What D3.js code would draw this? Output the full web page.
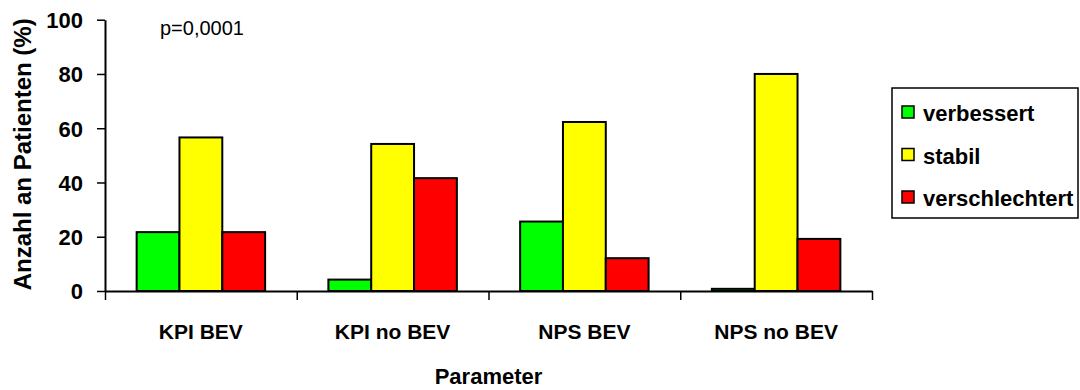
<!DOCTYPE html>
<html>
<head>
<meta charset="utf-8">
<script src="https://cdn.jsdelivr.net/npm/d3@7/dist/d3.min.js"></script>
<style>
  html, body { margin: 0; padding: 0; background: #fff; }
  svg { display: block; font-family: "Liberation Sans", Arial, sans-serif; }
</style>
</head>
<body>
<svg id="chart" width="1080" height="390"></svg>
<script>
// Patient outcome shares per parameter group (percent)
const categories = ["KPI BEV", "KPI no BEV", "NPS BEV", "NPS no BEV"];
const seriesNames = ["verbessert", "stabil", "verschlechtert"];
const verbessert = [21.7, 4.2, 25.6, 0.8];
const stabil = [56.6, 54.2, 62.3, 80.0];
const verschlechtert = [21.7, 41.6, 12.1, 19.2];
const yTicks = [0, 20, 40, 60, 80, 100];
const seriesColors = ["#00ff00", "#ffff00", "#ff0000"];
const pValueLabel = "p=0,0001";
const xTitle = "Parameter";
const yTitle = "Anzahl an Patienten (%)";

const seriesValues = [verbessert, stabil, verschlechtert];

const svg = d3.select("#chart");
const plot = { left: 105, right: 872, top: 19.7, bottom: 291 };

const y = d3.scaleLinear().domain([0, 100]).range([plot.bottom, plot.top]);
const x = d3.scaleBand().domain(categories)
  .range([plot.left, plot.right])
  .paddingInner(0.33).paddingOuter(0.165);
const xInner = d3.scaleBand().domain(seriesNames).range([0, x.bandwidth()]).padding(0);
const color = d3.scaleOrdinal().domain(seriesNames).range(seriesColors);

// Bars
const groups = svg.append("g").selectAll("g")
  .data(categories)
  .join("g")
  .attr("transform", d => `translate(${x(d)},0)`);

groups.selectAll("rect")
  .data((c, i) => seriesNames.map((s, k) => ({ s, v: seriesValues[k][i] })))
  .join("rect")
  .attr("x", d => xInner(d.s))
  .attr("width", xInner.bandwidth())
  .attr("y", d => y(d.v))
  .attr("height", d => y(0) - y(d.v))
  .attr("fill", d => color(d.s))
  .attr("stroke", "#000")
  .attr("stroke-width", 2);

// Y axis
const yAxis = svg.append("g")
  .attr("transform", `translate(${plot.left},0)`)
  .call(d3.axisLeft(y).tickValues(yTicks).tickSize(8).tickPadding(14).tickSizeOuter(0));
yAxis.select(".domain").attr("stroke", "#000").attr("stroke-width", 2);
yAxis.selectAll(".tick line").attr("stroke", "#000").attr("stroke-width", 1.5);
yAxis.selectAll(".tick text")
  .attr("fill", "#000")
  .style("font-size", "22px")
  .style("font-weight", "bold")
  .attr("dy", "0.36em");

// X axis: ticks sit on the category boundaries
const xEdges = d3.scaleLinear().domain([0, categories.length]).range([plot.left, plot.right]);
const xAxis = svg.append("g")
  .attr("transform", `translate(0,${plot.bottom})`)
  .call(d3.axisBottom(xEdges).tickValues(d3.range(categories.length + 1))
    .tickSize(9).tickSizeOuter(0).tickFormat(""));
xAxis.select(".domain").attr("stroke", "#000").attr("stroke-width", 2);
xAxis.selectAll(".tick line").attr("stroke", "#000").attr("stroke-width", 1.5);

// Category labels
svg.append("g").selectAll("text")
  .data(categories)
  .join("text")
  .attr("x", d => x(d) + x.bandwidth() / 2)
  .attr("y", 339)
  .attr("text-anchor", "middle")
  .style("font-size", "21px")
  .style("font-weight", "bold")
  .text(d => d);

// Axis titles
svg.append("text")
  .attr("x", (plot.left + plot.right) / 2)
  .attr("y", 384)
  .attr("text-anchor", "middle")
  .style("font-size", "22px")
  .style("font-weight", "bold")
  .text(xTitle);

svg.append("text")
  .attr("transform", `translate(31,${(plot.top + plot.bottom) / 2 - 1}) rotate(-90)`)
  .attr("text-anchor", "middle")
  .style("font-size", "24px")
  .style("font-weight", "bold")
  .text(yTitle);

// Significance note
svg.append("text")
  .attr("x", 160)
  .attr("y", 35)
  .style("font-size", "20px")
  .text(pValueLabel);

// Legend
const legend = svg.append("g").attr("transform", "translate(892,88)");
legend.append("rect")
  .attr("width", 186).attr("height", 130)
  .attr("fill", "#fff").attr("stroke", "#000").attr("stroke-width", 1.5);
const rows = legend.selectAll("g.row")
  .data(seriesNames)
  .join("g")
  .attr("class", "row")
  .attr("transform", (d, i) => `translate(0,${24.5 + i * 42.5})`);
rows.append("rect")
  .attr("x", 10).attr("y", -6.5)
  .attr("width", 12).attr("height", 12)
  .attr("fill", d => color(d))
  .attr("stroke", "#000").attr("stroke-width", 1.5);
rows.append("text")
  .attr("x", 31).attr("y", 8.5)
  .style("font-size", "22px")
  .style("font-weight", "bold")
  .text(d => d);
</script>
</body>
</html>
